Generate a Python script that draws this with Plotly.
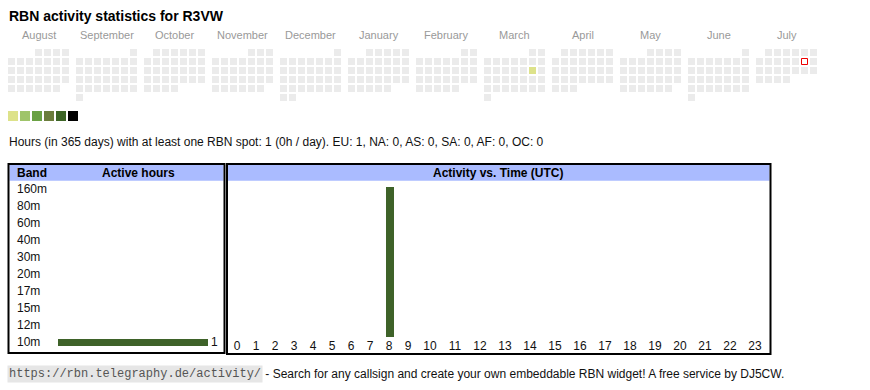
import datetime as dt
import plotly.graph_objects as go

# ---------------- data ----------------
title_text = "RBN activity statistics for R3VW"
summary_text = ("Hours (in 365 days) with at least one RBN spot: 1 (0h / day). "
                "EU: 1, NA: 0, AS: 0, SA: 0, AF: 0, OC: 0")
footer_url = "https://rbn.telegraphy.de/activity/"
footer_text = " - Search for any callsign and create your own embeddable RBN widget! A free service by DJ5CW."

cal_first_day = "2024-08-01"
cal_last_day = "2025-07-24"
month_labels = ["August", "September", "October", "November", "December", "January",
                "February", "March", "April", "May", "June", "July"]
active_days = ["2025-03-15"]
active_day_hours = [1]
marked_day = "2025-07-12"

level_colors = ["#dde28a", "#9fc46a", "#6aa144", "#6b7d3c", "#3d6526", "#000000"]
empty_color = "#ebebeb"

bands = ["160m", "80m", "60m", "40m", "30m", "20m", "17m", "15m", "12m", "10m"]
band_hours = [0, 0, 0, 0, 0, 0, 0, 0, 0, 1]

utc_hours = [0, 1, 2, 3, 4, 5, 6, 7, 8, 9, 10, 11, 12, 13, 14, 15, 16, 17, 18, 19, 20, 21, 22, 23]
hour_counts = [0, 0, 0, 0, 0, 0, 0, 0, 1, 0, 0, 0, 0, 0, 0, 0, 0, 0, 0, 0, 0, 0, 0, 0]

# ---------------- helpers ----------------
FONT = "Liberation Sans, Arial, sans-serif"
MONO = "Liberation Mono, Courier New, monospace"
BAR_COLOR = "#3e6229"
HEAD_COLOR = "#aabbff"

W, H = 870, 390


def px_x(x):
    return x / W


def px_y(y):
    return 1 - y / H


# ---------------- calendar ----------------
d0 = dt.date.fromisoformat(cal_first_day)
d1 = dt.date.fromisoformat(cal_last_day)
month_pitch = 68 / 9  # in cell units
activity = dict(zip(active_days, active_day_hours))


def cal_pos(d):
    mi = (d.year - d0.year) * 12 + d.month - d0.month
    first_wd = d.replace(day=1).weekday()
    row = (d.day - 1 + first_wd) // 7
    return mi * month_pitch + d.weekday(), row


def level_color(h):
    if h <= 0:
        return empty_color
    return level_colors[min(len(level_colors) - 1, (h - 1) // 4)]


cx, cy, cc = [], [], []
d = d0
while d <= d1:
    x, y = cal_pos(d)
    cx.append(x)
    cy.append(y)
    cc.append(level_color(activity.get(d.isoformat(), 0)))
    d += dt.timedelta(days=1)

mx, my = cal_pos(dt.date.fromisoformat(marked_day))

fig = go.Figure()

fig.add_trace(go.Scatter(
    x=cx, y=cy, mode="markers", xaxis="x", yaxis="y",
    marker=dict(symbol="square", size=7, color=cc, line=dict(width=0)),
    hoverinfo="skip", showlegend=False))
fig.add_trace(go.Scatter(
    x=[mx], y=[my], mode="markers", xaxis="x", yaxis="y",
    marker=dict(symbol="square", size=6, color="#ffffff", line=dict(width=1, color="#ee0000")),
    hoverinfo="skip", showlegend=False))

# legend swatches
fig.add_trace(go.Scatter(
    x=list(range(len(level_colors))), y=[0] * len(level_colors), mode="markers",
    xaxis="x4", yaxis="y4",
    marker=dict(symbol="square", size=10, color=level_colors, line=dict(width=0)),
    hoverinfo="skip", showlegend=False))

# band bars
fig.add_trace(go.Bar(
    x=band_hours, y=bands, orientation="h", xaxis="x2", yaxis="y2",
    marker=dict(color=BAR_COLOR, line=dict(width=0)), width=0.43,
    text=[str(v) if v else "" for v in band_hours], textposition="outside",
    constraintext="none",
    textfont=dict(family=FONT, size=12, color="#111"), cliponaxis=False,
    hoverinfo="skip", showlegend=False))

# hour bars: column widths follow label widths like a table
col_w = [13 + 6 * len(str(h)) for h in utc_hours]
centers = []
acc = 0
for w in col_w:
    centers.append(acc + w / 2)
    acc += w
total_w = acc

fig.add_trace(go.Bar(
    x=centers, y=hour_counts, xaxis="x3", yaxis="y3", width=8,
    marker=dict(color=BAR_COLOR, line=dict(width=0)),
    hoverinfo="skip", showlegend=False))

# ---------------- layout ----------------
hidden = dict(visible=False, fixedrange=True)
fig.update_layout(
    width=W, height=H, margin=dict(l=0, r=0, t=0, b=0),
    paper_bgcolor="white", plot_bgcolor="rgba(0,0,0,0)",
    font=dict(family=FONT, size=12, color="#111"),
    xaxis=dict(domain=[0, 1], range=[-11.5 / 9, (W - 11.5) / 9], **hidden),
    yaxis=dict(domain=[px_y(130), 1], range=[(130 - 52.5) / 9, -52.5 / 9], **hidden),
    xaxis4=dict(domain=[px_x(8), px_x(80)], range=[-5 / 12, 6 - 5 / 12], anchor="y4", **hidden),
    yaxis4=dict(domain=[px_y(122), px_y(110)], range=[-0.5, 0.5], anchor="x4", **hidden),
    xaxis2=dict(domain=[px_x(58), px_x(208)], range=[0, max(band_hours)], anchor="y2", **hidden),
    yaxis2=dict(domain=[px_y(350.5), px_y(180.5)], range=[len(bands) - 0.5, -0.5],
                type="category", categoryorder="array", categoryarray=bands,
                anchor="x2", **hidden),
    xaxis3=dict(domain=[px_x(227.5), px_x(767.5)], range=[0, total_w], anchor="y3",
                tickvals=centers, ticktext=[str(h) for h in utc_hours],
                tickfont=dict(family=FONT, size=12, color="#111"),
                ticks="", showgrid=False, zeroline=False, showline=False, fixedrange=True),
    yaxis3=dict(domain=[px_y(337), px_y(187)], range=[0, max(hour_counts)], anchor="x3", **hidden),
    bargap=0,
)

shapes = []
# header bands
shapes.append(dict(type="rect", xref="paper", yref="paper", x0=px_x(9.5), x1=px_x(223.5),
                   y0=px_y(180.7), y1=px_y(165), fillcolor=HEAD_COLOR, line=dict(width=0), layer="below"))
shapes.append(dict(type="rect", xref="paper", yref="paper", x0=px_x(228), x1=px_x(769.5),
                   y0=px_y(180.7), y1=px_y(165), fillcolor=HEAD_COLOR, line=dict(width=0), layer="below"))
# box borders
shapes.append(dict(type="rect", xref="paper", yref="paper", x0=px_x(8.5), x1=px_x(224.5),
                   y0=px_y(353), y1=px_y(164), line=dict(color="black", width=2), fillcolor="rgba(0,0,0,0)"))
shapes.append(dict(type="rect", xref="paper", yref="paper", x0=px_x(227), x1=px_x(770.5),
                   y0=px_y(354), y1=px_y(164), line=dict(color="black", width=2), fillcolor="rgba(0,0,0,0)"))
fig.update_layout(shapes=shapes)

ann = []
ann.append(dict(text="<b>" + title_text + "</b>", xref="paper", yref="paper", x=px_x(7), y=px_y(16),
                xanchor="left", yanchor="middle", showarrow=False, font=dict(size=14, color="#000")))
for i, m in enumerate(month_labels):
    ann.append(dict(text=m, xref="x", yref="paper", x=i * month_pitch + 3, y=px_y(35),
                    xanchor="center", yanchor="middle", showarrow=False,
                    font=dict(size=11, color="#999999")))
ann.append(dict(text=summary_text, xref="paper", yref="paper", x=px_x(7), y=px_y(142),
                xanchor="left", yanchor="middle", showarrow=False, font=dict(size=12, color="#111")))
ann.append(dict(text="<b>Band</b>", xref="paper", yref="paper", x=px_x(15), y=px_y(172.5),
                xanchor="left", yanchor="middle", showarrow=False, font=dict(size=12, color="#000")))
ann.append(dict(text="<b>Active hours</b>", xref="paper", yref="paper", x=px_x(138), y=px_y(172.5),
                xanchor="center", yanchor="middle", showarrow=False, font=dict(size=12, color="#000")))
ann.append(dict(text="<b>Activity vs. Time (UTC)</b>", xref="paper", yref="paper", x=px_x(498), y=px_y(172.5),
                xanchor="center", yanchor="middle", showarrow=False, font=dict(size=12, color="#000")))
for b in bands:
    ann.append(dict(text=b, xref="paper", yref="y2", x=px_x(15), y=b, xanchor="left", yanchor="middle",
                    showarrow=False, font=dict(size=12, color="#111")))
ann.append(dict(text=footer_url, xref="paper", yref="paper", x=px_x(7), y=px_y(374),
                xanchor="left", yanchor="middle", showarrow=False, bgcolor="#e6e6e6", borderpad=1,
                font=dict(family=MONO, size=12, color="#555")))
ann.append(dict(text=footer_text, xref="paper", yref="paper", x=px_x(260), y=px_y(374),
                xanchor="left", yanchor="middle", showarrow=False, font=dict(size=12, color="#111")))
fig.update_layout(annotations=ann)

fig.write_html("out.html", config={"displayModeBar": False},
               post_script="document.body.style.margin='0';")
